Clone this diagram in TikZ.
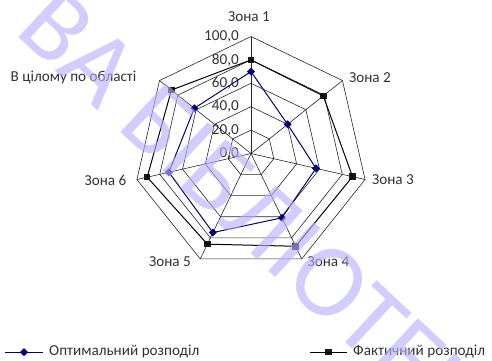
\documentclass[tikz,border=0pt]{standalone}
\usepackage{fontspec}
\setmainfont{Carlito}
\usepackage{xcolor}
\usepackage{tikz}
\usetikzlibrary{shapes.geometric}
\definecolor{optBlue}{RGB}{0,0,128}
\definecolor{wmark}{RGB}{184,176,255}
\tikzset{
diam/.style = {diamond, fill=optBlue, minimum size=#1,
              inner sep=0pt, outer sep=0pt},
diam/.default = 8pt, % width of the diamond
sq/.style = {rectangle, fill=black!90, minimum size=#1,
              inner sep=0pt, outer sep=0pt},
sq/.default = 6.5pt, % side of the square
lbl/.style = {font=\fontsize{15.2}{17}\selectfont, text=black!80, inner sep=0pt},
gridline/.style = {black!85, line width=0.6pt}
}

\begin{document}
\begin{tikzpicture}[x=1pt, y=1pt]
  \useasboundingbox (-251,-206.5) rectangle (241,153.5);

  % Grid
    \foreach \r in {20,40,60,80,100}
      \draw[gridline] (90:\r*1.17) -- (38.571:\r*1.17) -- (-12.857:\r*1.17) -- (-64.286:\r*1.17)
        -- (-115.714:\r*1.17) -- (-167.143:\r*1.17) -- (141.429:\r*1.17) -- cycle;
    \foreach \a in {90,38.571,-12.857,-64.286,-115.714,-167.143,141.429}
      \draw[gridline] (0,0) -- (\a:117);

  % Scale
    \foreach \v in {0,20,40,60,80,100}
      \node[lbl, anchor=east] (val\v) at (-12,\v*1.17) {\v,0};

  % Axis names
    \node[lbl] (zone1) at (-2,136.5) {Зона 1};
    \node[lbl] (zone2) at (119,75.5) {Зона 2};
    \node[lbl] (zone3) at (142,-26.5) {Зона 3};
    \node[lbl] (zone4) at (77.5,-108.5) {Зона 4};
    \node[lbl] (zone5) at (-81,-108.5) {Зона 5};
    \node[lbl] (zone6) at (-145.5,-26.5) {Зона 6};
    \node[lbl] (region) at (-177.5,75.5) {В цілому по області};

  % Actual
    \node[sq] (act1) at (90:80*1.17) {};
    \node[sq] (act2) at (38.571:79*1.17) {};
    \node[sq] (act3) at (-12.857:89*1.17) {};
    \node[sq] (act4) at (-64.286:88*1.17) {};
    \node[sq] (act5) at (-115.714:86*1.17) {};
    \node[sq] (act6) at (-167.143:91*1.17) {};
    \node[sq] (act7) at (141.429:87*1.17) {};
    \draw[line width=1pt] (act1.center) -- (act2.center) -- (act3.center) -- (act4.center)
      -- (act5.center) -- (act6.center) -- (act7.center) -- (act1.center);

  % Optimal
    \node[diam] (opt1) at (90:70*1.17) {};
    \node[diam] (opt2) at (38.571:40*1.17) {};
    \node[diam] (opt3) at (-12.857:57*1.17) {};
    \node[diam] (opt4) at (-64.286:61*1.17) {};
    \node[diam] (opt5) at (-115.714:75*1.17) {};
    \node[diam] (opt6) at (-167.143:72*1.17) {};
    \node[diam] (opt7) at (141.429:62*1.17) {};
    \draw[optBlue, line width=1pt] (opt1.center) -- (opt2.center) -- (opt3.center) -- (opt4.center)
      -- (opt5.center) -- (opt6.center) -- (opt7.center) -- (opt1.center);

  % Legend
    \coordinate (optA) at (-246,-198.5);
    \coordinate (optB) at (-208,-198.5);
    \node[diam] (optKey) at (-227,-198.5) {};
    \draw[optBlue, line width=1pt] (optA) -- (optB);
    \node[lbl, anchor=west] (optText) at (-202,-198.5) {Оптимальний розподіл};
    \coordinate (actA) at (59,-198.5);
    \coordinate (actB) at (96,-198.5);
    \node[sq] (actKey) at (77.5,-198.5) {};
    \draw[line width=1pt] (actA) -- (actB);
    \node[lbl, anchor=west] (actText) at (102,-198.5) {Фактичний розподіл};

  % Watermark
    \begin{scope}
      \clip (-251,-206.5) rectangle (241,153.5);
      \node[text=wmark, opacity=0.63, rotate=-43, inner sep=0pt,
            font=\fontsize{104}{110}\selectfont] (stamp) at (23.5,-77) {ВА БІБЛІОТЕКА};
    \end{scope}
\end{tikzpicture}
\end{document}
